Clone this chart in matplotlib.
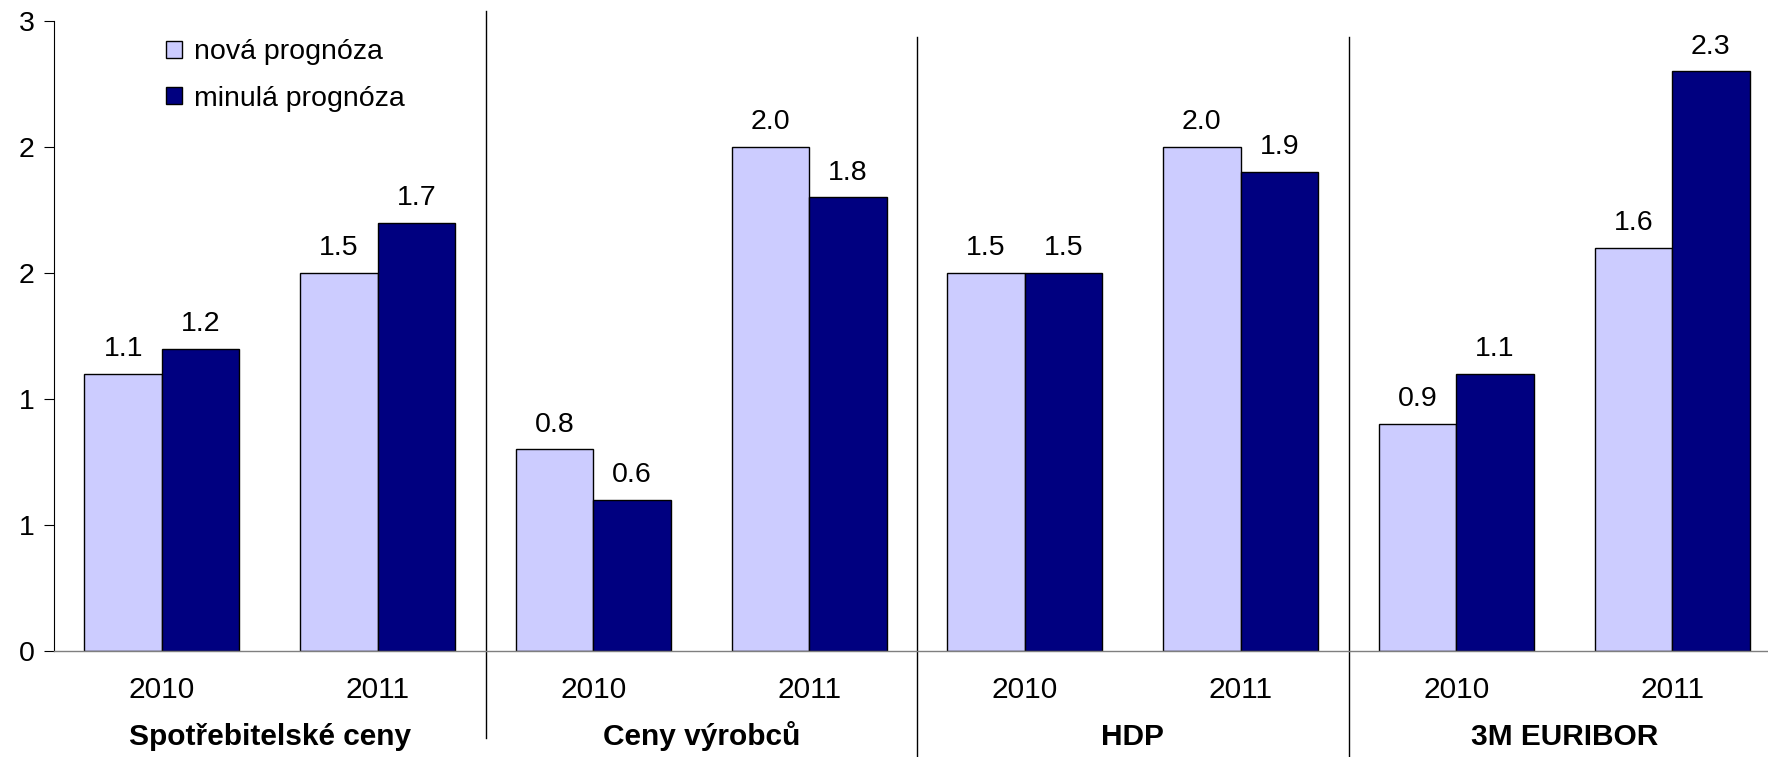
import math
import matplotlib
matplotlib.use("Agg")
import matplotlib.pyplot as plt
from matplotlib.ticker import FuncFormatter

plt.rcParams['font.family'] = ['Liberation Sans', 'DejaVu Sans']

# data
groups = ['Spotřebitelské ceny', 'Ceny výrobců', 'HDP', '3M EURIBOR']
years = ['2010', '2011']
nova = [1.1, 1.5, 0.8, 2.0, 1.5, 2.0, 0.9, 1.6]
minula = [1.2, 1.7, 0.6, 1.8, 1.5, 1.9, 1.1, 2.3]
series_names = ['nová prognóza', 'minulá prognóza']

light = '#CCCCFF'
dark = '#000080'

fig = plt.figure(figsize=(17.68, 7.57), dpi=100)
ax = fig.add_axes([54 / 1768, 106 / 757, 1726 / 1768, 630 / 757])

x = list(range(len(nova)))
w = 0.359
b1 = ax.bar([i - w / 2 for i in x], nova, width=w, color=light, edgecolor='black', linewidth=1.0)
b2 = ax.bar([i + w / 2 for i in x], minula, width=w, color=dark, edgecolor='black', linewidth=1.0)

# value labels
for bars, vals in ((b1, nova), (b2, minula)):
    for rect, v in zip(bars, vals):
        ax.annotate(f'{v:.1f}', xy=(rect.get_x() + rect.get_width() / 2, v),
                    xytext=(0, 8.5), textcoords='offset points',
                    ha='center', va='bottom', fontsize=20.5)

ax.set_xlim(-0.5, len(nova) - 0.5)
ax.set_ylim(0, 2.5)
ax.set_yticks([0, 0.5, 1.0, 1.5, 2.0, 2.5])
# excel style rounding of tick labels
ax.yaxis.set_major_formatter(FuncFormatter(lambda v, p: str(int(math.floor(v + 0.5)))))
ax.tick_params(axis='y', length=7, width=0.8, labelsize=20.5, pad=7)
ax.set_xticks([])

for s in ['top', 'right']:
    ax.spines[s].set_visible(False)
ax.spines['left'].set_linewidth(0.8)
ax.spines['bottom'].set_color('#7f7f7f')
ax.spines['bottom'].set_linewidth(1.0)

# year and group labels under the axis
for i in x:
    ax.annotate(years[i % 2], xy=(i, 0), xycoords=('data', 'axes fraction'),
                xytext=(0, -34), textcoords='offset points',
                ha='center', va='baseline', fontsize=21.5)
for g, name in enumerate(groups):
    ax.annotate(name, xy=(2 * g + 0.5, 0), xycoords=('data', 'axes fraction'),
                xytext=(0, -68), textcoords='offset points',
                ha='center', va='baseline', fontsize=21.5, fontweight='bold')

# group dividers
trans = ax.get_xaxis_transform()
for k in range(1, len(groups)):
    xb = 2 * k - 0.5
    if k == 1:
        y0, y1 = -0.138, 1.016
    else:
        y0, y1 = -0.2, 0.975
    ax.plot([xb, xb], [y0, y1], transform=trans, color='black', linewidth=1.0, clip_on=False)

ax.legend([b1, b2], series_names, loc='upper left', bbox_to_anchor=(0.0649, 0.971),
          frameon=False, fontsize=20.5, handlelength=0.55, handleheight=0.55,
          handletextpad=0.45, labelspacing=0.72, borderpad=0, borderaxespad=0)

fig.savefig('out.png', dpi=100)
